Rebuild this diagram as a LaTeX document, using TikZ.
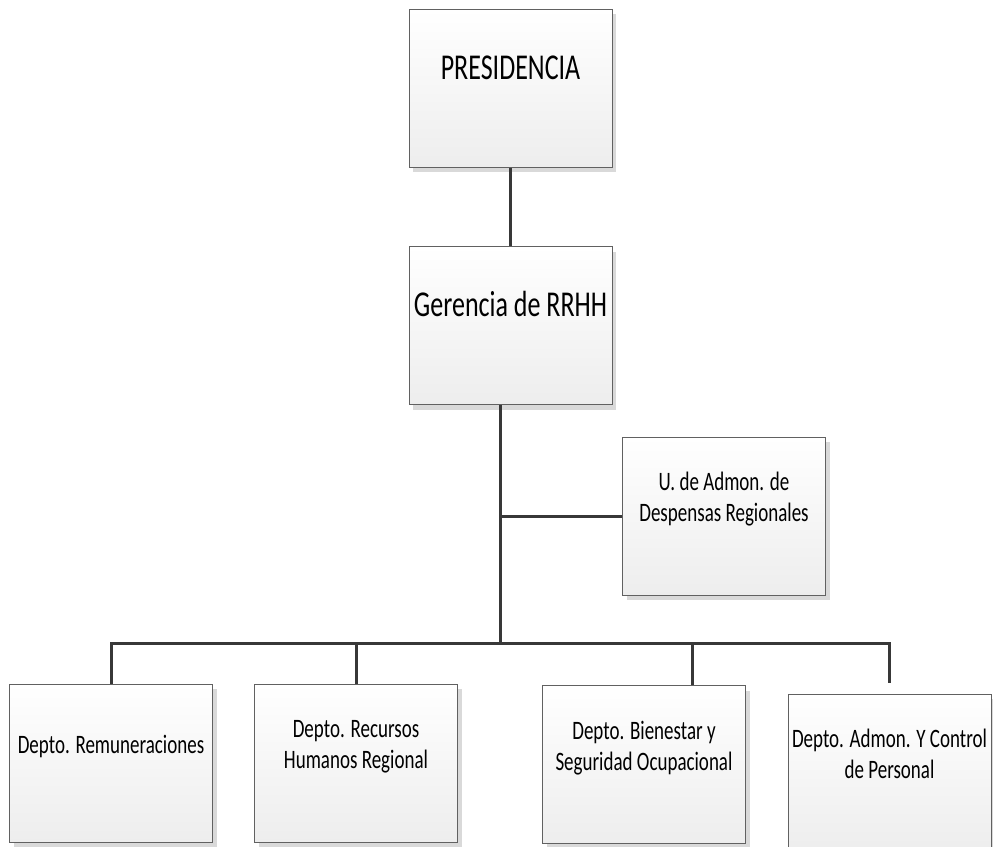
\documentclass[tikz,border=0pt]{standalone}
\usepackage{fontspec}
\setmainfont{Carlito}
\usepackage{graphicx}
\usetikzlibrary{shadows}

\tikzset{
  orgbox/.style={draw=black!62, line width=1pt, top color=white, bottom color=black!7,
    minimum width=203pt, minimum height=158pt, inner sep=0pt,
    drop shadow={shadow xshift=4pt, shadow yshift=-5pt, fill=black!15, opacity=1}},
  bigtxt/.style={font=\fontsize{26}{30}\selectfont, yshift=17pt},
  smalltxt/.style={font=\fontsize{19}{22}\selectfont, yshift=16pt},
  link/.style={draw=black!78, line width=3pt},
}
\newcommand\boxlines[1]{\scalebox{1}[1.4]{\begin{tabular}{@{}c@{}}#1\end{tabular}}}

\begin{document}
\begin{tikzpicture}[x=1pt, y=-1pt]
\useasboundingbox (0,0) rectangle (993,846);

% upper levels
\node[orgbox, label={[bigtxt]center:\boxlines{PRESIDENCIA}}] (pres) at (510.5,88) {};
\node[orgbox, label={[bigtxt]center:\boxlines{Gerencia de RRHH}}] (ger) at (510.5,325.5) {};
\node[orgbox, label={[smalltxt]center:\boxlines{U. de Admon. de\\Despensas Regionales}}] (unit) at (724,516) {};

% departments
\foreach \i/\x/\y/\txt in {1/111/763/{Depto. Remuneraciones},
                           2/356/763/{Depto. Recursos\\Humanos Regional},
                           3/644/764.5/{Depto. Bienestar y\\Seguridad Ocupacional},
                           4/889.5/773/{Depto. Admon. Y Control\\de Personal}}
{
    \node[orgbox, label={[smalltxt]center:\boxlines{\txt}}] (d\i) at (\x,\y) {};
}

\coordinate (split) at (500,516);
\coordinate (bus) at (500,643);
\coordinate (drop3) at (692,643);
\coordinate (drop4) at (889,683);

\draw[link] (pres) -- (ger);
\draw[link] (ger.south -| bus) -- (bus);
\draw[link] (split) -- (unit);
\draw[link] (d1.north) |- (drop4 |- bus) -- (drop4);
\draw[link] (d2.north) -- (d2.north |- bus);
\draw[link] (drop3) -- (drop3 |- d3.north);
\end{tikzpicture}
\end{document}
